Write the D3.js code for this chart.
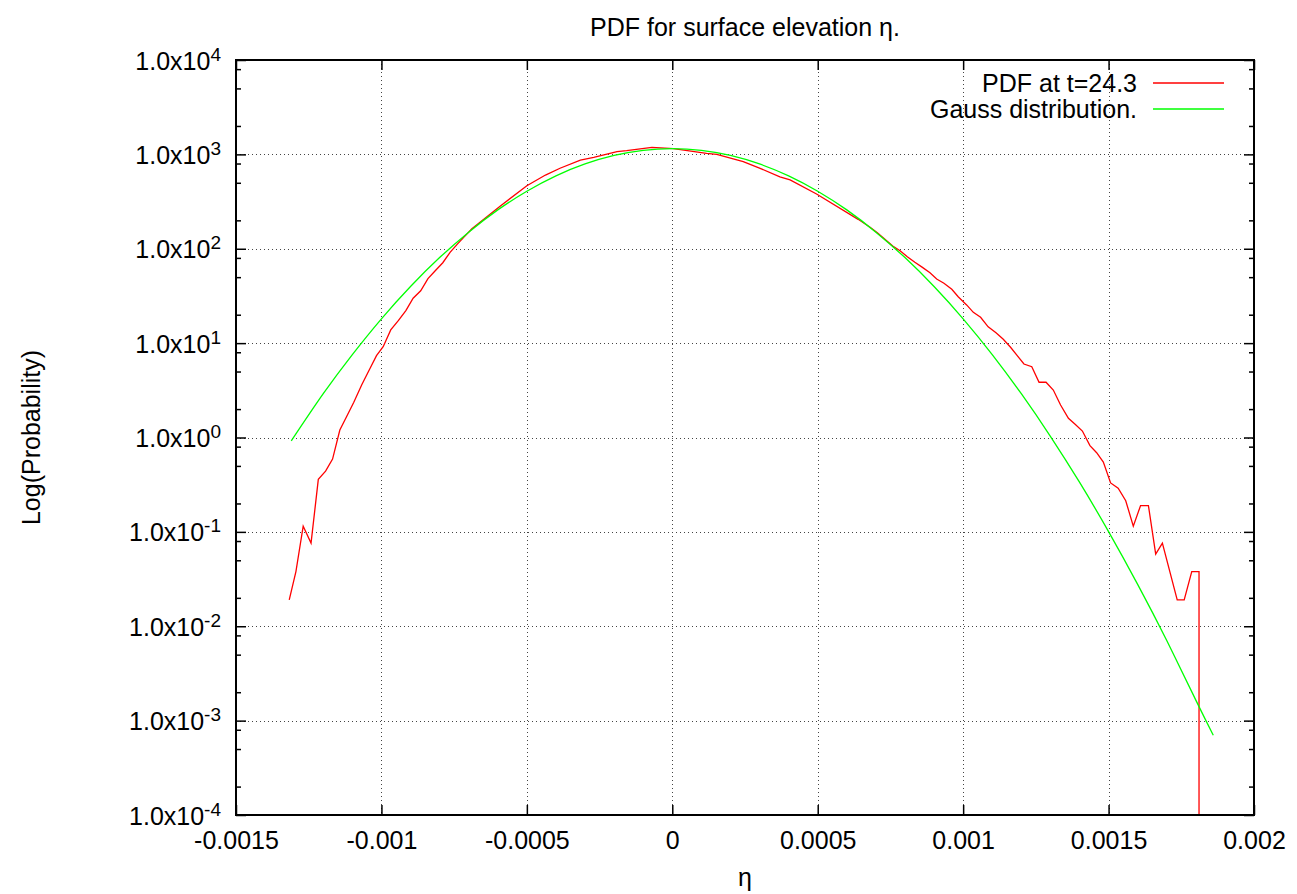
<!DOCTYPE html>
<html>
<head>
<meta charset="utf-8">
<script src="https://cdn.jsdelivr.net/npm/d3@7/dist/d3.min.js"></script>
<style>
  body { margin: 0; background: #fff; }
  svg { display: block; font-family: "Liberation Sans", Arial, Helvetica, sans-serif; }
</style>
</head>
<body>
<svg id="chart" width="1297" height="894"></svg>
<script>
const pdfEta = [
  -0.001317, -0.001294, -0.001269, -0.001242, -0.001217, -0.001192, -0.001168, -0.001143,
  -0.00112, -0.001095, -0.001068, -0.001042, -0.001017, -0.000994, -0.000968, -0.000942,
  -0.000916, -0.000891, -0.000865, -0.00084, -0.000815, -0.000789, -0.000764, -0.000739,
  -0.000713, -0.000689, -0.000661, -0.000591, -0.0005, -0.000436, -0.000386, -0.000316,
  -0.00027, -0.00019, -0.000157, -0.00007, 0.000004, 0.000118, 0.000153, 0.000244,
  0.000302, 0.00037, 0.000405, 0.000496, 0.000639, 0.00068, 0.000705, 0.000731,
  0.000758, 0.000783, 0.000808, 0.000834, 0.00086, 0.000886, 0.000909, 0.000934,
  0.000961, 0.000983, 0.001012, 0.001035, 0.00106, 0.001086, 0.001113, 0.001138,
  0.001163, 0.001186, 0.001209, 0.001236, 0.001261, 0.001285, 0.00131, 0.001335,
  0.001362, 0.001385, 0.00141, 0.001436, 0.001459, 0.001482, 0.001507, 0.001533,
  0.001559, 0.001585, 0.00161, 0.001637, 0.001662, 0.001685, 0.001736, 0.00176,
  0.001786, 0.001811, 0.001811
];
const pdfValues = [
  0.019, 0.038, 0.115, 0.076, 0.36, 0.44, 0.59, 1.2,
  1.66, 2.36, 3.6, 5.19, 7.36, 9.16, 13.8, 17.3,
  22.1, 29.9, 35.9, 48.2, 58.5, 71.1, 91.6, 112,
  136, 163, 191, 284, 466, 604, 713, 871,
  931, 1067, 1094, 1189, 1153, 1026, 1000, 836,
  711, 579, 536, 380, 205, 169, 148, 126,
  107, 95.3, 82.4, 71.8, 63.5, 55.7, 47.8, 43.1,
  37.2, 31.0, 25.4, 21.2, 18.8, 14.9, 12.9, 11.0,
  9.04, 7.36, 6.01, 5.62, 3.85, 3.85, 3.18, 2.21,
  1.60, 1.38, 1.17, 0.82, 0.69, 0.55, 0.33, 0.29,
  0.214, 0.115, 0.19, 0.19, 0.058, 0.076, 0.019, 0.019,
  0.038, 0.038, 0
];

// Gauss distribution (green) sampled from the plot
const gaussEta = [
  -0.00131, -0.0012, -0.0011, -0.001, -0.0009, -0.0008, -0.0007, -0.0006,
  -0.0005, -0.0004, -0.0003, -0.0002, -0.0001, 0, 0.0001, 0.0002,
  0.0003, 0.0004, 0.0005, 0.0006, 0.0007, 0.0008, 0.0009, 0.001,
  0.0011, 0.0012, 0.0013, 0.0014, 0.0015, 0.0016, 0.0017, 0.0018, 0.00186
];
const gaussValues = [
  0.92, 2.91, 7.56, 18.1, 39.8, 80.6, 150, 258,
  407, 592, 791, 974, 1103, 1150, 1103, 974,
  791, 592, 407, 258, 150, 80.6, 39.8, 18.1,
  7.56, 2.91, 1.03, 0.336, 0.1007, 0.0278, 0.00706, 0.00165, 0.0007
];

const xTicks = [-0.0015, -0.001, -0.0005, 0, 0.0005, 0.001, 0.0015, 0.002];
const xTickLabels = ["-0.0015", "-0.001", "-0.0005", "0", "0.0005", "0.001", "0.0015", "0.002"];
const yExponents = [-4, -3, -2, -1, 0, 1, 2, 3, 4];
const yMinorMantissas = [2, 5, 8];

const seriesNames = ["PDF at t=24.3", "Gauss distribution."];
const seriesColors = ["#ff0000", "#00ff00"];

const margin = { left: 236, right: 43, top: 60, bottom: 79 };
const W = 1297, H = 894;
const plotW = W - margin.left - margin.right;
const plotH = H - margin.top - margin.bottom;

const svg = d3.select('#chart');
const g = svg.append('g').attr('transform', `translate(${margin.left},${margin.top})`);

const x = d3.scaleLinear().domain([-0.0015, 0.002]).range([0, plotW]);
const y = d3.scaleLog().domain([1e-4, 1e4]).range([plotH, 0]);

const yMajor = yExponents.map(e => Math.pow(10, e));
const yMinor = [];
yExponents.slice(0, -1).forEach(e => {
  yMinorMantissas.forEach(m => yMinor.push(m * Math.pow(10, e)));
});

// grid
const grid = g.append('g').attr('class', 'grid')
  .attr('stroke', '#444').attr('stroke-width', 1).attr('stroke-dasharray', '1,3');
grid.selectAll('.vg')
  .data(xTicks.slice(1, -1))
  .enter().append('line')
  .attr('x1', d => Math.round(x(d)) + 0.5).attr('x2', d => Math.round(x(d)) + 0.5)
  .attr('y1', 0).attr('y2', plotH);
grid.selectAll('.hg')
  .data(yMajor.slice(1, -1))
  .enter().append('line')
  .attr('y1', d => Math.round(y(d)) + 0.5).attr('y2', d => Math.round(y(d)) + 0.5)
  .attr('x1', 0).attr('x2', plotW);

// clip
svg.append('defs').append('clipPath').attr('id', 'plotclip')
  .append('rect').attr('width', plotW).attr('height', plotH + 1);

const lines = g.append('g').attr('clip-path', 'url(#plotclip)');

const redLine = d3.line()
  .x(d => x(d[0]))
  .y(d => d[1] > 0 ? y(d[1]) : y.range()[0]);

lines.append('path')
  .datum(pdfEta.map((e, i) => [e, pdfValues[i]]))
  .attr('d', redLine)
  .attr('fill', 'none')
  .attr('stroke', seriesColors[0])
  .attr('stroke-width', 1.3);

const greenLine = d3.line()
  .x(d => x(d[0]))
  .y(d => y(d[1]))
  .curve(d3.curveNatural);

lines.append('path')
  .datum(gaussEta.map((e, i) => [e, gaussValues[i]]))
  .attr('d', greenLine)
  .attr('fill', 'none')
  .attr('stroke', seriesColors[1])
  .attr('stroke-width', 1.3);

// axes (ticks inward, gnuplot style)
const fontSize = 25;
const xAxis = g.append('g')
  .attr('transform', `translate(0,${plotH})`)
  .call(d3.axisBottom(x).tickValues(xTicks)
    .tickFormat((d, i) => xTickLabels[i])
    .tickSize(-10).tickPadding(16));

g.append('g')
  .call(d3.axisTop(x).tickValues(xTicks).tickFormat('').tickSize(-10));

const yAxis = g.append('g')
  .call(d3.axisLeft(y).tickValues(yMajor).tickFormat('').tickSize(-10).tickPadding(15));

g.append('g')
  .call(d3.axisLeft(y).tickValues(yMinor).tickFormat('').tickSize(-5));
g.append('g').attr('transform', `translate(${plotW},0)`)
  .call(d3.axisRight(y).tickValues(yMajor).tickFormat('').tickSize(-10));
g.append('g').attr('transform', `translate(${plotW},0)`)
  .call(d3.axisRight(y).tickValues(yMinor).tickFormat('').tickSize(-5));

g.selectAll('.domain').remove();
g.selectAll('.tick line').attr('stroke', '#000').attr('stroke-width', 1.5);
g.selectAll('.tick text').attr('fill', '#000')
  .style('font-size', fontSize + 'px')
  .style('font-family', '"Liberation Sans", Arial, sans-serif');

// y tick labels with superscript exponent
yAxis.selectAll('.tick').each(function(d, i) {
  const t = d3.select(this).select('text');
  t.text(null).attr('dy', null).attr('y', 9).attr('x', -15);
  t.append('tspan').text('1.0x10');
  t.append('tspan').text(yExponents[i])
    .attr('dy', -9).style('font-size', '19px');
});

// frame
g.append('rect')
  .attr('width', plotW).attr('height', plotH)
  .attr('fill', 'none').attr('stroke', '#000').attr('stroke-width', 2);

// titles
svg.append('text')
  .attr('x', margin.left + plotW / 2).attr('y', 36)
  .attr('text-anchor', 'middle').style('font-size', fontSize + 'px')
  .text('PDF for surface elevation η.');

svg.append('text')
  .attr('x', margin.left + plotW / 2).attr('y', 886)
  .attr('text-anchor', 'middle').style('font-size', fontSize + 'px')
  .text('η');

svg.append('text')
  .attr('transform', `translate(31,${margin.top + plotH / 2}) rotate(-90)`)
  .attr('text-anchor', 'middle').attr('dy', '0.35em')
  .style('font-size', fontSize + 'px')
  .text('Log(Probability)');

// legend
const legend = svg.append('g');
seriesNames.forEach((name, i) => {
  const ly = 83 + i * 26;
  legend.append('text')
    .attr('x', 1137).attr('y', ly + 9)
    .attr('text-anchor', 'end').style('font-size', fontSize + 'px')
    .text(name);
  legend.append('line')
    .attr('x1', 1153).attr('x2', 1224).attr('y1', ly).attr('y2', ly)
    .attr('stroke', seriesColors[i]).attr('stroke-width', 1.3);
});
</script>
</body>
</html>
